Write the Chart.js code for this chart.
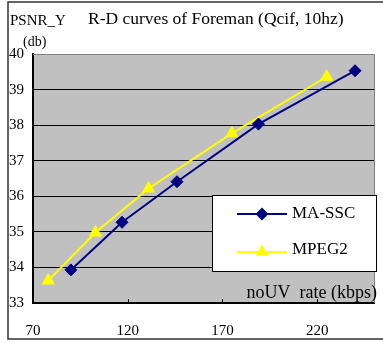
<!DOCTYPE html>
<html lang="en">
<head>
  <meta charset="UTF-8">
  <title>R-D curves of Foreman</title>
  <script src="https://cdn.jsdelivr.net/npm/chart.js"></script>
  <style>
    body {
      margin: 0;
      background: #fff;
    }
    canvas {
      display: block;
    }
  </style>
</head>
<body>
  <canvas id="rd" width="383" height="343"></canvas>

  <script>
    // Valores
    const rateMA = [90, 117, 146, 189, 240];
    const psnrMA = [33.93, 35.27, 36.41, 38.03, 39.53];
    const rateMPEG = [78, 103, 131, 175, 225];
    const psnrMPEG = [33.63, 34.98, 36.22, 37.77, 39.36];
    const xTicks = [70, 120, 170, 220];
    const serif = '"Liberation Serif", "Times New Roman", serif';

    function pontos(xs, ys) {
      return xs.map((x, i) => ({ x: x, y: ys[i] }));
    }

    // Desenha moldura, fundo, títulos e legenda
    const decor = {
      id: 'decor',
      beforeDraw(chart) {
        const { ctx, chartArea: a } = chart;
        ctx.save();
        ctx.fillStyle = '#fff';
        ctx.fillRect(0, 0, chart.width, chart.height);
        ctx.fillStyle = '#c0c0c0';
        ctx.fillRect(a.left, a.top, a.right - a.left, a.bottom - a.top);
        ctx.restore();
      },
      afterDraw(chart) {
        const { ctx, chartArea: a } = chart;
        const xs = chart.scales.x;
        ctx.save();

        // moldura externa
        ctx.strokeStyle = '#333';
        ctx.lineWidth = 1.5;
        ctx.strokeRect(8, 2, 400, 337);

        // borda cinza do gráfico (topo e direita)
        ctx.strokeStyle = '#808080';
        ctx.lineWidth = 1;
        ctx.beginPath();
        ctx.moveTo(a.left, a.top + 0.5);
        ctx.lineTo(a.right + 0.5, a.top + 0.5);
        ctx.lineTo(a.right + 0.5, a.bottom);
        ctx.stroke();

        // marcas internas no eixo x
        ctx.strokeStyle = '#000';
        ctx.beginPath();
        xTicks.slice(1).forEach(v => {
          const px = Math.round(xs.getPixelForValue(v)) + 0.5;
          ctx.moveTo(px, a.bottom);
          ctx.lineTo(px, a.bottom - 4);
        });
        ctx.stroke();

        // textos
        ctx.fillStyle = '#000';
        ctx.textBaseline = 'alphabetic';
        ctx.textAlign = 'left';
        ctx.font = '15px ' + serif;
        ctx.fillText('PSNR_Y', 10, 25);
        ctx.font = '17.5px ' + serif;
        ctx.fillText('R-D curves of Foreman (Qcif, 10hz)', 88, 24);
        ctx.font = '14px ' + serif;
        ctx.fillText('(db)', 23, 46);
        ctx.font = '18px ' + serif;
        ctx.textAlign = 'right';
        ctx.fillText('noUV  rate (kbps)', 377, 298);

        // legenda
        ctx.fillStyle = '#fff';
        ctx.fillRect(212, 195, 165, 76);
        ctx.strokeStyle = '#000';
        ctx.lineWidth = 1;
        ctx.strokeRect(212.5, 195.5, 164, 76);

        const itens = [
          { ds: chart.data.datasets[0], y: 214, ty: 218 },
          { ds: chart.data.datasets[1], y: 252, ty: 254 }
        ];
        itens.forEach(it => {
          ctx.strokeStyle = it.ds.borderColor;
          ctx.lineWidth = 2;
          ctx.beginPath();
          ctx.moveTo(237, it.y);
          ctx.lineTo(287, it.y);
          ctx.stroke();
          ctx.fillStyle = it.ds.pointBackgroundColor;
          const cx = 262, cy = it.y, r = it.ds.pointRadius + 0.5;
          ctx.beginPath();
          if (it.ds.pointStyle === 'rectRot') {
            ctx.moveTo(cx, cy - r);
            ctx.lineTo(cx + r, cy);
            ctx.lineTo(cx, cy + r);
            ctx.lineTo(cx - r, cy);
          } else {
            ctx.moveTo(cx, cy - r);
            ctx.lineTo(cx + r * 0.866, cy + r * 0.5);
            ctx.lineTo(cx - r * 0.866, cy + r * 0.5);
          }
          ctx.closePath();
          ctx.fill();
          ctx.fillStyle = '#000';
          ctx.textAlign = 'left';
          ctx.font = '17px ' + serif;
          ctx.fillText(it.ds.label, 292, it.ty);
        });

        ctx.restore();
      }
    };

    const chart = new Chart(document.getElementById('rd'), {
      type: 'line',
      data: {
        datasets: [{
          label: 'MA-SSC',
          data: pontos(rateMA, psnrMA),
          borderColor: '#000080',
          borderWidth: 2,
          pointStyle: 'rectRot',
          pointRadius: 6,
          pointBackgroundColor: '#000080',
          pointBorderColor: '#000080',
          pointBorderWidth: 1
        }, {
          label: 'MPEG2',
          data: pontos(rateMPEG, psnrMPEG),
          borderColor: '#ffff00',
          borderWidth: 2,
          pointStyle: 'triangle',
          pointRadius: 7,
          pointBackgroundColor: '#ffff00',
          pointBorderColor: '#ffff00',
          pointBorderWidth: 1
        }]
      },
      options: {
        responsive: false,
        animation: false,
        devicePixelRatio: 1,
        layout: { padding: { top: 54, right: 9, left: 9, bottom: 0 } },
        plugins: {
          legend: { display: false },
          tooltip: { enabled: false }
        },
        scales: {
          x: {
            type: 'linear',
            min: 70,
            max: 250,
            afterFit: s => { s.height = 40; },
            afterBuildTicks: s => { s.ticks = xTicks.map(v => ({ value: v })); },
            grid: { display: false },
            border: { color: '#000', width: 2 },
            ticks: {
              padding: 11,
              color: '#000',
              font: { family: serif, size: 15 }
            }
          },
          y: {
            min: 33,
            max: 40,
            afterFit: s => { s.width = 24; },
            grid: {
              color: c => (c.tick && c.tick.value === 40) ? '#808080' : '#000',
              lineWidth: 1,
              drawTicks: false
            },
            border: { color: '#000', width: 2 },
            ticks: {
              stepSize: 1,
              padding: 0,
              crossAlign: 'far',
              color: '#000',
              font: { family: serif, size: 15 }
            }
          }
        }
      },
      plugins: [decor]
    });
  </script>
</body>
</html>
